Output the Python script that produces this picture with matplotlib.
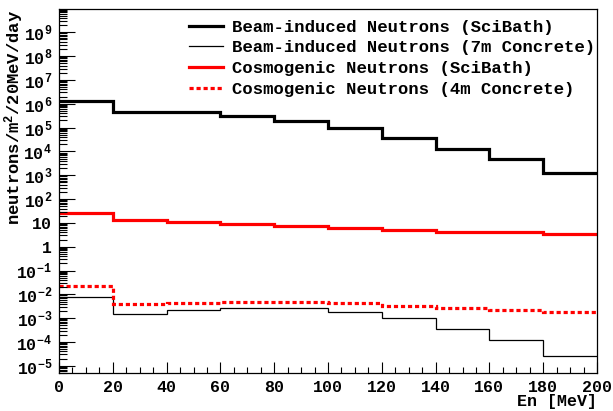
import numpy as np
import matplotlib
matplotlib.use("Agg")
import matplotlib.pyplot as plt
from matplotlib.ticker import LogLocator, FixedLocator, MultipleLocator, FuncFormatter

plt.rcParams['font.family'] = ['Liberation Mono', 'DejaVu Sans']
plt.rcParams['font.weight'] = 'bold'
plt.rcParams['mathtext.fontset'] = 'custom'
plt.rcParams['mathtext.rm'] = 'Liberation Mono:bold'
plt.rcParams['mathtext.it'] = 'Liberation Mono:bold'
plt.rcParams['mathtext.bf'] = 'Liberation Mono:bold'

# Data
bin_edges = [0, 20, 40, 60, 80, 100, 120, 140, 160, 180, 200]
beam_scibath = [1.26e6, 4.7e5, 4.5e5, 3.0e5, 1.9e5, 9.5e4, 3.8e4, 1.3e4, 4.9e3, 1.2e3]
beam_concrete = [7.9e-3, 1.5e-3, 2.2e-3, 2.8e-3, 2.6e-3, 1.8e-3, 1.0e-3, 3.5e-4, 1.26e-4, 2.7e-5]
cosmo_scibath = [26, 13, 10.5, 8.6, 7.3, 6.2, 5.1, 4.3, 4.0, 3.4]
cosmo_concrete = [2.2e-2, 3.8e-3, 4.4e-3, 4.7e-3, 4.6e-3, 4.2e-3, 3.3e-3, 2.6e-3, 2.2e-3, 1.8e-3]
labels = ["Beam-induced Neutrons (SciBath)",
          "Beam-induced Neutrons (7m Concrete)",
          "Cosmogenic Neutrons (SciBath)",
          "Cosmogenic Neutrons (4m Concrete)"]
y_major_exponents = list(range(-5, 10))

fig = plt.figure(figsize=(6.13, 4.11), dpi=100)
ax = fig.add_axes([59/613, 1-373/411, (597-59)/613, (373-9)/411])

h1 = ax.stairs(beam_scibath, bin_edges, baseline=None, color='black', linewidth=2.3, label=labels[0])
h2 = ax.stairs(beam_concrete, bin_edges, baseline=None, color='black', linewidth=0.9, label=labels[1])
h3 = ax.stairs(cosmo_scibath, bin_edges, baseline=None, color='#ff0000', linewidth=2.3, label=labels[2])
h4 = ax.stairs(cosmo_concrete, bin_edges, baseline=None, color='#ff0000', linewidth=2.3,
               linestyle=(0, (1.3, 0.9)), label=labels[3])

ax.set_yscale('log')
ax.set_xlim(0, 200)
ax.set_ylim(5e-6, 9.5e9)

ax.xaxis.set_major_locator(MultipleLocator(20))
ax.xaxis.set_minor_locator(MultipleLocator(5))
ax.yaxis.set_major_locator(FixedLocator([10.0**e for e in y_major_exponents]))
ax.yaxis.set_minor_locator(LogLocator(base=10, subs=np.arange(2, 10), numticks=30))

def yfmt(v, pos):
    e = int(round(np.log10(v)))
    if e == 0:
        return '1'
    if e == 1:
        return '10'
    return r'$\mathregular{10^{%d}}$' % e

ax.yaxis.set_major_formatter(FuncFormatter(yfmt))
ax.tick_params(axis='y', which='major', direction='in', length=11.5, width=0.8, labelsize=12, pad=5,
               right=False)
ax.tick_params(axis='y', which='minor', direction='in', length=5.5, width=0.8, right=False)
ax.tick_params(axis='x', which='major', direction='in', length=8, width=0.8, labelsize=12, pad=5, top=False)
ax.tick_params(axis='x', which='minor', direction='in', length=4, width=0.8, top=False)
for lab in ax.get_xticklabels() + ax.get_yticklabels():
    lab.set_fontweight('bold')
for s in ax.spines.values():
    s.set_linewidth(0.9)

fig.text(597/613, 1-401/411, 'En [MeV]', ha='right', va='center', fontsize=12, fontweight='bold')
fig.text(14/613, 1-10/411, r'neutrons/m$^{2}$/20MeV/day', ha='center', va='top', rotation=90,
         fontsize=12.3, fontweight='bold')

leg = ax.legend(handles=[h1, h2, h3, h4], labels=labels, loc='upper left',
                bbox_to_anchor=(189/613, 1-19.5/411), bbox_transform=fig.transFigure,
                frameon=False, fontsize=12.4, handlelength=2.0, handletextpad=0.5,
                labelspacing=0.33, borderpad=0, borderaxespad=0)
for t in leg.get_texts():
    t.set_fontweight('bold')

fig.savefig('out.png', dpi=100)
